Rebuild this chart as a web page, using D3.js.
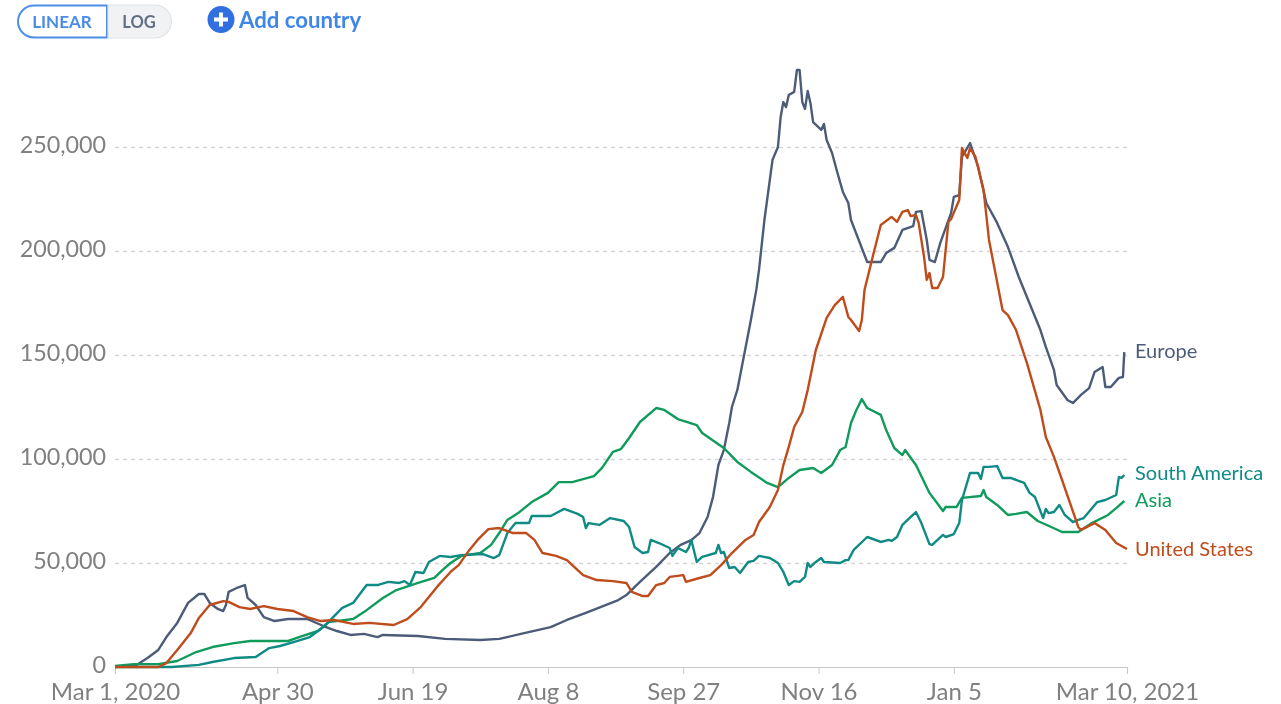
<!DOCTYPE html>
<html>
<head>
<meta charset="utf-8">
<script src="https://cdn.jsdelivr.net/npm/d3@7"></script>
<style>
	html, body { margin: 0; padding: 0; background: #fff; }
	svg { display: block; font-family: Lato, sans-serif; filter: blur(0.45px); }
</style>
</head>
<body>
<svg width="1281" height="704"></svg>
<script>
// [days since Mar 1 2020, thousands of cases]
const europe = [[0,0],[8,1],[12,4.3],[16,8.2],[19,14.4],[23,21.2],[27,30.8],[31,35.1],[33,35.1],[35,30.8],[38,27.9],[40,26.9],[41,29.8],[42,36.1],[45,38],[48,39.4],[49,33.2],[52,29.8],[55,24],[59,22.1],[64,23.1],[71,23.1],[77,19.7],[82,17.3],[87,15.4],[92,15.9],[97,14.4],[99,15.4],[112,14.9],[122,13.5],[135,13],[142,13.5],[150,15.9],[161,19.2],[167,22.6],[174,26],[186,32.2],[189,34.6],[194,40.9],[200,48.1],[205,54.8],[209,58.7],[213,61],[216,64.4],[219,72.1],[221,81.7],[223,97.1],[225,104.3],[227,117.3],[228,125],[230,133.2],[235,166.8],[237,181.3],[238,190.9],[240,214.9],[243,243.8],[245,250],[246,264.4],[247,271.6],[248,269.2],[249,275],[251,276.5],[252,287],[253,287],[254,271.6],[255,268.3],[256,276.9],[257,271.2],[258,262],[261,258.2],[262,261.1],[263,253.4],[265,247.1],[267,237.5],[269,228.4],[271,223.1],[272,214.9],[278,194.7],[283,194.7],[285,199],[288,201.5],[291,210.1],[295,212],[296,218.8],[298,219.2],[300,205.3],[301,195.7],[303,194.7],[305,203.9],[309,218.3],[310,226],[312,226.9],[313,245.2],[316,251.9],[319,240.4],[322,223.1],[326,213.5],[330,201.9],[334,187.5],[342,162],[344,153.9],[347,142.8],[348,135.6],[352,128.4],[354,126.9],[357,130.8],[360,134.1],[362,141.8],[365,144.2],[366,134.6],[368,134.6],[371,139],[372.5,139.4],[373,151.4]];

const unitedStates = [[0,0],[16,0],[19,1.9],[23,8.2],[28,16.3],[31,23.6],[35,29.8],[40,31.7],[42,31.3],[46,28.8],[50,27.9],[55,29.3],[60,27.9],[66,26.9],[71,24],[76,22.1],[81,22.6],[88,20.7],[94,21.2],[103,20.2],[108,23],[113,28.8],[119,38.5],[124,45.7],[127,49],[131,56.3],[134,61.1],[138,66.3],[142,66.8],[147,64.4],[152,64.4],[155,61.1],[158,54.8],[163,53.4],[167,51.4],[173,44.2],[178,41.8],[184,41.3],[189,40.4],[191,36.1],[195,34.1],[197,34.1],[200,39.4],[203,40.4],[205,43.3],[210,44.2],[211,40.9],[216,42.8],[220,44.2],[224,49],[228,54.8],[233,61.1],[236,63.5],[238,69.7],[242,76.9],[245,85.1],[247,97.1],[249,105.8],[251,115.4],[254,122.6],[256,133.2],[259,152.4],[263,167.8],[266,174],[269,177.9],[271,168.3],[272,166.8],[275,161.5],[276,166.8],[277,181.3],[280,197.1],[283,212.5],[287,216.4],[289,214],[291,218.8],[293,219.7],[294,216.8],[296,217.3],[297,213.5],[299,197.1],[300,186.1],[301,189.4],[302,182.2],[304,182.2],[306,187.5],[308,213.9],[309,215.4],[312,224.5],[313,249.5],[315,244.7],[316,249.5],[318,245.2],[321,229.3],[323,205.3],[328,171.6],[330,169.2],[333,162],[337,146.2],[342,123.6],[344,110.6],[347,101],[350,89.9],[356,67.3],[357,65.9],[362,69.2],[366,65.9],[370,59.6],[374,56.7]];

const asia = [[0,0.5],[7,1.4],[16,1.4],[23,2.9],[30,7.2],[36,9.6],[44,11.5],[50,12.5],[57,12.5],[64,12.5],[68,14.4],[75,17.3],[79,21.6],[88,23.1],[92,26.4],[99,33.2],[104,37],[112,40.4],[118,42.8],[121,46.6],[124,50],[128,53.4],[135,54.8],[139,58.7],[142,64.4],[145,70.7],[149,74],[154,79.3],[160,83.7],[164,88.9],[169,88.9],[177,91.8],[180,95.7],[184,103.4],[187,104.8],[190,110.1],[194,117.8],[200,124.5],[203,123.6],[208,119.2],[215,116.3],[217,112.5],[225,105.3],[230,98.6],[235,93.8],[241,88.5],[245,86.5],[249,90.9],[253,94.7],[258,95.7],[261,93.3],[265,97.1],[268,104.3],[270,105.8],[272,117.3],[274,123.6],[276,128.8],[278,124.5],[283,121.2],[285,113.9],[288,105.3],[291,101.9],[292,104.3],[296,97.1],[301,83.7],[306,75],[307,76.9],[311,76.9],[313,81.3],[320,82.2],[321,85.1],[322,81.7],[326,77.9],[330,73.1],[333,73.6],[337,74.5],[341,70.2],[346,67.3],[350,64.9],[356,64.9],[361,69.2],[367,73.1],[370,76.4],[373,79.8]];

const southAmerica = [[0,0],[21,0],[31,1],[36,2.4],[44,4.3],[52,4.8],[57,9.1],[61,10.1],[66,12],[72,14.4],[77,19.2],[84,28.4],[88,30.8],[93,39.4],[97,39.4],[101,40.9],[105,40.4],[107,41.3],[109,39.4],[111,45.7],[114,45.2],[116,50.5],[120,53.4],[124,52.9],[128,53.8],[136,54.3],[140,52.4],[142,53.8],[145,64.4],[148,69.2],[153,69.2],[154,72.6],[161,72.6],[166,76],[171,73.6],[173,72.1],[174,66.8],[175,69.2],[179,68.3],[183,71.6],[188,70.2],[190,67.3],[192,57.7],[195,54.8],[197,55.3],[198,61.1],[201,59.6],[205,57.2],[206,53.4],[208,57.2],[211,55.3],[212,57.2],[213,61.1],[215,50.5],[217,52.9],[222,54.8],[223,58.7],[224,54.8],[225,55.3],[227,47.6],[229,48.1],[231,45.2],[234,50.5],[236,51],[238,53.4],[242,52.4],[245,50],[247,45.7],[249,39.4],[251,41.3],[253,40.9],[255,43.3],[256,50],[257,48.1],[259,50.5],[261,52.4],[262,50.5],[268,50],[270,51.4],[271,51.4],[273,56.3],[278,62.5],[283,60.1],[286,61.1],[287,60.6],[289,62.5],[291,68.3],[294,72.1],[296,74.5],[298,69.2],[301,59.1],[302,58.7],[306,63.5],[307,62.5],[310,63.9],[312,69.2],[313,80.3],[316,93.3],[319,93.3],[320,90.4],[321,96.2],[323,96.2],[326,96.6],[328,90.9],[331,90.9],[336,88.5],[338,83.7],[340,81.7],[343,71.6],[344,76],[345,74],[347,74.5],[349,77.9],[351,73.1],[354,69.7],[356,70.7],[358,71.6],[363,79.3],[366,80.3],[370,82.7],[371,91.3],[372,90.9],[373,92.3]];

const seriesNames = ["Europe", "Asia", "South America", "United States"];
const seriesData = [europe, asia, southAmerica, unitedStates];
const seriesColors = ["#4c5c78", "#0f9b5b", "#0f8a85", "#bf4c1c"];
const labelValues = [152, 80.3, 93.3, 56.7]; // where the end labels sit, not the line end

const yTicks = [0, 50, 100, 150, 200, 250];
const xTickDays = [0, 60, 110, 160, 210, 260, 310, 374];
const xTickLabels = ["Mar 1, 2020", "Apr 30", "Jun 19", "Aug 8", "Sep 27", "Nov 16", "Jan 5", "Mar 10, 2021"];

let svg = d3.select("svg");
let x = d3.scaleLinear().domain([0, 374]).range([115, 1127]);
let y = d3.scaleLinear().domain([0, 250]).range([667, 147]);

// y grid + labels
let yAxis = svg.append("g").attr("transform", "translate(115,0)")
	.call(d3.axisLeft(y).tickValues(yTicks).tickSize(0).tickPadding(9)
		.tickFormat(d => d3.format(",")(d * 1000)));
yAxis.select(".domain").remove();
yAxis.selectAll("text").attr("y", -2).attr("fill", "#808080").style("font-size", "23.3px").style("font-family", "Lato");
yAxis.selectAll("g.tick").filter(d => d > 0).append("line")
	.attr("x1", 0).attr("x2", 1012)
	.attr("stroke", "#d6d6d6").attr("stroke-width", 1.3).attr("stroke-dasharray", "4,4");

// x axis
let xAxis = svg.append("g").attr("transform", "translate(0,667)")
	.call(d3.axisBottom(x).tickValues(xTickDays).tickSize(7).tickPadding(9)
		.tickFormat((d, i) => xTickLabels[i]));
xAxis.select(".domain").attr("stroke", "#c8c8c8").attr("stroke-width", 1.2);
xAxis.selectAll("line").attr("stroke", "#c8c8c8");
xAxis.selectAll("text").attr("fill", "#808080").style("font-size", "24px").style("font-family", "Lato");

// lines
let line = d3.line().x(d => x(d[0])).y(d => y(d[1]));
svg.append("g").selectAll("path")
	.data(seriesData)
	.enter().append("path")
		.attr("fill", "none")
		.attr("stroke", (d, i) => seriesColors[i])
		.attr("stroke-width", 2.4)
		.attr("stroke-linejoin", "round")
		.attr("d", line);

// end labels
svg.append("g").selectAll("text")
	.data(seriesNames)
	.enter().append("text")
		.attr("x", 1135)
		.attr("y", (d, i) => y(labelValues[i]))
		.attr("dy", "0.35em")
		.attr("fill", (d, i) => seriesColors[i])
		.style("font-size", "20px")
		.text(d => d);

// scale toggle + add country button
let ctl = svg.append("g");
ctl.append("path")
	.attr("d", "M107,5.5H34a16,16 0 0 0 0,32H107Z")
	.attr("fill", "#fff").attr("stroke", "#4a90e8").attr("stroke-width", 2);
ctl.append("path")
	.attr("d", "M108,5H155a16,16 0 0 1 0,33H108Z")
	.attr("fill", "#f1f2f3").attr("stroke", "#dfe3e8").attr("stroke-width", 1.2);
ctl.append("text").attr("x", 62).attr("y", 28).attr("text-anchor", "middle")
	.attr("fill", "#4a8ae8").style("font-size", "17px").style("font-weight", 700).text("LINEAR");
ctl.append("text").attr("x", 139).attr("y", 28).attr("text-anchor", "middle")
	.attr("fill", "#5f6f85").style("font-size", "16.5px").style("font-weight", 700).text("LOG");
ctl.append("circle").attr("cx", 221).attr("cy", 19.5).attr("r", 13.5).attr("fill", "#2f6fe0");
ctl.append("path").attr("d", "M221,12.5V26.5M214,19.5H228")
	.attr("stroke", "#fff").attr("stroke-width", 4);
ctl.append("text").attr("x", 239).attr("y", 28)
	.attr("fill", "#3f86ea").style("font-size", "22.2px").style("font-weight", 700).text("Add country");
</script>
</body>
</html>
